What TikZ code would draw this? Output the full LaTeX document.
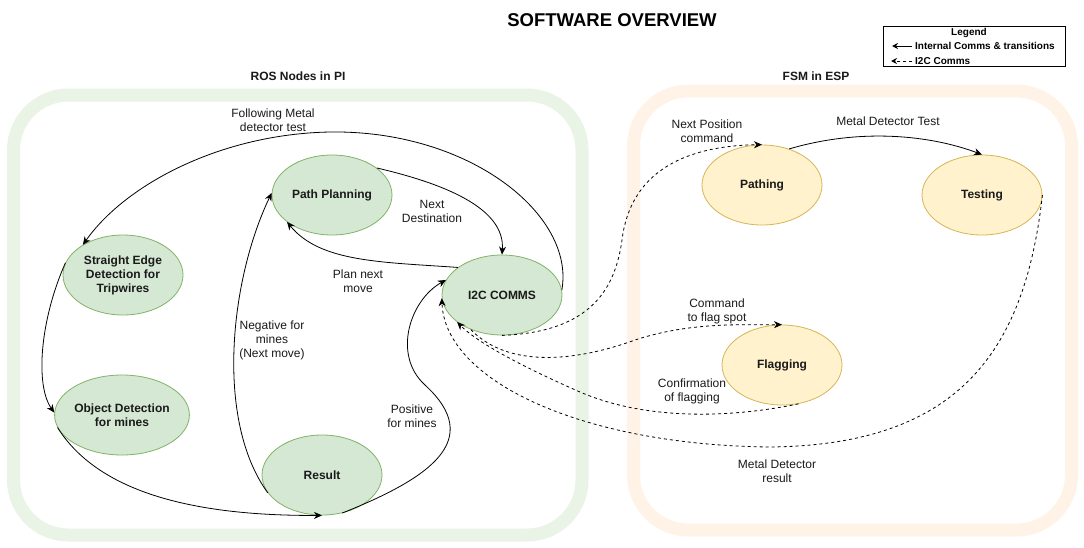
\documentclass[tikz,border=0pt]{standalone}
\usepackage{fontspec}
\setmainfont{Liberation Sans}
\usetikzlibrary{arrows.meta,shapes.geometric}
\definecolor{gfill}{HTML}{D5E8D4}
\definecolor{gline}{HTML}{82B366}
\definecolor{yfill}{HTML}{FFF2CC}
\definecolor{yline}{HTML}{D6B656}
\definecolor{gband}{HTML}{E9F4E6}
\definecolor{oband}{HTML}{FFF3E8}
\definecolor{txt}{HTML}{1A1A1A}
\begin{document}
\begin{tikzpicture}[x=1pt,y=-1pt,
  state/.style={ellipse, minimum width=120pt, minimum height=80pt, inner sep=0pt, line width=0.8pt, font=\bfseries\fontsize{12}{14}\selectfont, align=center, text=txt},
  gstate/.style={state, fill=gfill, draw=gline},
  ystate/.style={state, fill=yfill, draw=yline},
  lbl/.style={font=\fontsize{12}{14}\selectfont, align=center, inner sep=0pt, text=txt},
  band/.style={line width=13pt, rounded corners=55pt},
  conn/.style={draw=black, line width=0.8pt, -{Stealth[length=8pt,width=7pt,inset=2.5pt]}},
  i2cconn/.style={conn, dash pattern=on 3pt off 3pt},
  legtext/.style={font=\bfseries\fontsize{10}{11}\selectfont, inner sep=0pt, text=black},
]
\useasboundingbox (0,0) rectangle (1084,547);
\fill[white] (0,0) rectangle (1084,547);

% containers
\draw[band, draw=gband] (13.5,95) rectangle (582,535);
\draw[band, draw=oband] (633.5,91) rectangle (1071.5,530);

% title and group labels
\node[font=\bfseries\fontsize{18.5}{20}\selectfont, text=black] (title) at (612,20.5) {SOFTWARE OVERVIEW};
\node[font=\bfseries\fontsize{12}{14}\selectfont, text=txt] (rosl) at (298,76) {ROS Nodes in PI};
\node[font=\bfseries\fontsize{12}{14}\selectfont, text=txt] (fsml) at (816,76) {FSM in ESP};

% legend
\node[draw=black, line width=0.8pt, minimum width=182pt, minimum height=40pt, inner sep=0pt] (legend) at (974,46) {};
\node[legtext] (legtitle) at (969,33) {Legend};
\node[legtext, anchor=west] (legint) at (915,46) {Internal Comms \& transitions};
\node[legtext, anchor=west] (legi2c) at (915,61) {I2C Comms};
\coordinate (la1) at (912,46);
\coordinate (la2) at (892,46);
\coordinate (lb1) at (912,61);
\coordinate (lb2) at (891,61);
\draw[conn, line width=1pt, -{Stealth[length=6pt,width=6pt,inset=2pt]}] (la1) -- (la2);
\draw[i2cconn, line width=1pt, -{Stealth[length=6pt,width=6pt,inset=2pt]}] (lb1) -- (lb2);

% states
\node[gstate] (sed) at (123,275) {Straight Edge\\Detection for\\Tripwires};
\node[gstate] (obj) at (122,415) {Object Detection\\for mines};
\node[gstate] (pp) at (332,195) {Path Planning};
\node[gstate] (i2c) at (502,295) {I2C COMMS};
\node[gstate] (res) at (322,475) {Result};
\node[ystate] (path) at (762,185) {Pathing};
\node[ystate] (test) at (982,195) {Testing};
\node[ystate] (flag) at (782,365) {Flagging};

% solid connectors
\draw[conn] (i2c.5) .. controls (575,215) and (470,130) .. (330,132) .. controls (220,134) and (125,185) .. (sed.143);
\draw[conn] (sed.168) .. controls (40,320) and (35,385) .. (obj.178);
\draw[conn] (obj.191) .. controls (100,495) and (200,516) .. (res.south);
\draw[conn] (res.198) .. controls (215,420) and (230,280) .. (pp.178);
\draw[conn] (res.298) .. controls (430,478) and (485,440) .. (425,385) .. controls (392,355) and (410,300) .. (i2c.165);
\draw[conn] (pp.31) .. controls (450,185) and (505,210) .. (i2c.north);
\draw[conn] (i2c.148) .. controls (380,262) and (320,262) .. (pp.211);
\draw[conn] (path.53) .. controls (860,128) and (930,135) .. (test.north);

% I2C connectors
\draw[i2cconn] (i2c.south) .. controls (590,332) and (615,290) .. (622,240) .. controls (630,175) and (680,146) .. (path.north);
\draw[i2cconn] (i2c.228) .. controls (510,370) and (580,360) .. (635,340) .. controls (690,322) and (740,325) .. (flag.north);
\draw[i2cconn] (flag.293) .. controls (720,420) and (640,418) .. (580,392) .. controls (530,370) and (480,345) .. (i2c.211);
\draw[i2cconn] (test.east) .. controls (1025,350) and (960,445) .. (770,447) .. controls (580,445) and (445,380) .. (i2c.183);

% connector labels
\node[lbl] (lfollow) at (273,120) {Following Metal\\detector test};
\node[lbl] (lnextdest) at (432,211) {Next\\Destination};
\node[lbl] (lplan) at (358,281) {Plan next\\move};
\node[lbl] (lneg) at (272,340) {Negative for\\mines\\(Next move)};
\node[lbl] (lpos) at (412,416) {Positive\\for mines};
\node[lbl] (lnextpos) at (707,131) {Next Position\\command};
\node[lbl] (lmdt) at (888,121) {Metal Detector Test};
\node[lbl] (lcmd) at (717,311) {Command\\to flag spot};
\node[lbl] (lconf) at (692,391) {Confirmation\\of flagging};
\node[lbl] (lmdr) at (777,471) {Metal Detector\\result};
\end{tikzpicture}
\end{document}
